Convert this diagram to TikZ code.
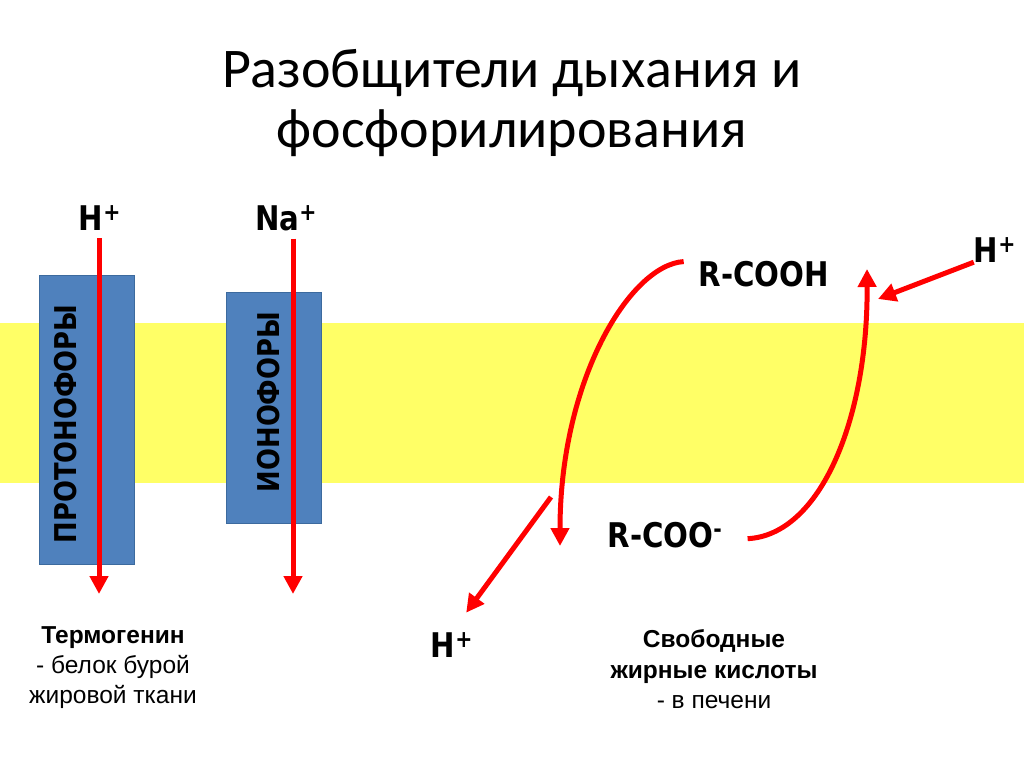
\documentclass[tikz,border=0pt]{standalone}
\usepackage{fontspec}
\setmainfont{Liberation Sans}
\newfontfamily\titlefont{Carlito}
\newfontfamily\labelfont[BoldFeatures={FakeStretch=0.86}]{DejaVu Sans}
\usetikzlibrary{arrows.meta, positioning}

\definecolor{membrane}{HTML}{FFFF66}
\definecolor{carrier}{HTML}{4F81BD}
\definecolor{carrieredge}{HTML}{3C6A9E}
\definecolor{flux}{HTML}{FF0000}

\tikzset{
  ion/.style={font=\labelfont\bfseries\fontsize{34}{34}\selectfont, inner sep=0pt, anchor=base},
  carriertext/.style={font=\labelfont\bfseries\fontsize{30}{30}\selectfont, rotate=90, inner sep=0pt},
  carrierbox/.style={fill=carrier, draw=carrieredge, line width=0.8pt},
  flow/.style={draw=flux, line width=5pt, -{Triangle[length=18pt,width=18pt]}},
  caption/.style={font=\fontsize{24.5}{30}\selectfont, inner sep=0pt, anchor=base},
  captionhead/.style={caption, font=\bfseries\fontsize{24.5}{30}\selectfont},
}

\begin{document}
\begin{tikzpicture}[x=1pt,y=-1pt]
  \useasboundingbox (0,0) rectangle (1024,767);
  % title
  \node[font=\titlefont\fontsize{56}{60}\selectfont, anchor=base] (title1) at (512,88) {Разобщители дыхания и};
  \node[font=\titlefont\fontsize{56}{60}\selectfont, anchor=base] (title2) at (512,148) {фосфорилирования};

  % membrane
  \fill[membrane] (0,323) rectangle (1024,483);

  % carriers
  \draw[carrierbox] (39,275) rectangle (134,564);
  \node[carriertext] (proto) at (66,424) {ПРОТОНОФОРЫ};
  \draw[carrierbox] (226,292) rectangle (321,523);
  \node[carriertext] (iono) at (269,402) {ИОНОФОРЫ};

  % ions through the carriers
  \node[ion] (hleft) at (100,230) {H\textsuperscript{+}};
  \node[ion] (naion) at (286,230) {Na\textsuperscript{+}};
  \coordinate (hleftout) at (99,594);
  \coordinate (naout) at (293,594);
  \draw[flow, shorten <=8pt] (hleft.south -| hleftout) -- (hleftout);
  \draw[flow, shorten <=8pt] (naion.south -| naout) -- (naout);

  % fatty acid cycle
  \node[ion] (rcooh) at (764,286) {R-COOH};
  \node[ion] (rcoo) at (665,547) {R-COO\textsuperscript{-}};
  \node[ion] (hright) at (995,262) {H\textsuperscript{+}};
  \node[ion] (hbot) at (452,657) {H\textsuperscript{+}};
  \coordinate (acidin) at (560,546);
  \coordinate (acidout) at (867,269);
  \coordinate (hjoin) at (878,299);
  \coordinate (hleave) at (551,497);
  \draw[flow] ([xshift=-15pt,yshift=-1pt]rcooh.north west) .. controls (630,265) and (560,380) .. (acidin);
  \draw[flow] ([xshift=25pt,yshift=9pt]rcoo.south east) .. controls (820,535) and (868,420) .. (acidout);
  \draw[flow] (hright.south west) -- (hjoin);
  \draw[flow, shorten >=24pt] (hleave) -- (hbot.north);

  % captions
  \node[captionhead] (thermo) at (113,643) {Термогенин};
  \node[caption] (thermo2) at (113,673) {- белок бурой};
  \node[caption] (thermo3) at (113,703) {жировой ткани};
  \node[captionhead] (ffa) at (714,647) {Свободные};
  \node[captionhead] (ffa2) at (714,678) {жирные кислоты};
  \node[caption] (ffa3) at (714,708) {- в печени};
\end{tikzpicture}
\end{document}
